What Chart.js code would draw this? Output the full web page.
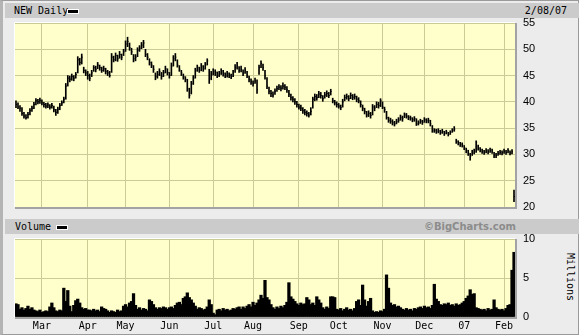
<!DOCTYPE html>
<html><head><meta charset="utf-8">
<script src="https://cdn.jsdelivr.net/npm/chart.js@4.4.1/dist/chart.umd.min.js"></script>
<style>
html,body{margin:0;padding:0;}
body{width:579px;height:335px;overflow:hidden;}
#wrap{position:relative;width:579px;height:335px;background:#ececec;box-sizing:border-box;border:1px solid #9a9a9a;border-left:3px solid #b4b4b4;}
.band{position:absolute;left:2px;width:574px;height:15px;background:#cbcbcb;}
.t{position:absolute;font-family:"DejaVu Sans Mono",monospace;font-size:10px;color:#000;line-height:12px;white-space:nowrap;}
.sw{position:absolute;width:10px;height:3px;background:#000;border:1px solid #fff;}
.logo{position:absolute;font-family:"DejaVu Sans",sans-serif;font-weight:bold;font-size:10px;color:#8c8c8c;line-height:12px;white-space:nowrap;}
canvas{position:absolute;left:0;top:0;}
#mil{position:absolute;left:541px;top:270px;width:52px;text-align:center;transform:rotate(90deg);}
</style>
</head><body>
<div id="wrap">
  <div class="band" style="top:2px"></div>
  <div class="t" style="left:11px;top:4px">NEW Daily</div>
  <div class="sw" style="left:64px;top:8px"></div>
  <div class="t" style="left:518px;top:4px;width:46px;text-align:right">2/08/07</div>
  <div class="band" style="top:218px"></div>
  <div class="t" style="left:12px;top:220px">Volume</div>
  <div class="sw" style="left:53px;top:224px"></div>
  <div class="logo" style="left:400px;top:220px;width:113px;text-align:right">©BigCharts.com</div>
  <div class="t" id="mil">Millions</div>
</div>
<canvas id="price" width="579" height="335"></canvas>
<canvas id="vol" width="579" height="335"></canvas>
<script>
// ---- categories / tick labels ----
const monthLabels = ['Mar','Apr','May','Jun','Jul','Aug','Sep','Oct','Nov','Dec','07','Feb'];
const monthStarts = [13,36,55,77,99,119,142,162,184,205,225,245];
const priceTicks = [20,25,30,35,40,45,50,55];
const volTicks = [0,5,10];

// ---- series: daily high / low / close (price), volume (millions) ----
const closes = [
39.5,39.0,38.8,37.8,37.3,37.0,37.6,38.3,38.8,39.5,
40.2,40.0,40.3,39.8,39.5,39.2,39.4,39.0,39.3,38.5,
38.0,38.6,39.3,39.8,40.5,43.0,44.5,44.3,44.8,44.5,
45.2,48.0,47.5,48.5,46.0,45.5,45.0,44.5,45.5,46.5,
46.2,47.0,46.5,46.0,46.3,45.8,45.5,45.0,48.5,48.0,
48.8,48.2,49.0,48.5,49.5,51.0,51.5,50.3,49.5,48.2,
48.5,49.8,50.2,50.8,51.2,49.0,48.5,47.5,47.0,46.2,
44.8,45.2,45.8,44.8,45.5,46.3,45.6,45.0,46.8,48.2,
48.5,47.0,46.2,45.5,44.8,44.3,42.5,41.2,43.5,44.5,
46.0,46.5,46.0,46.8,46.3,47.0,47.8,44.5,45.3,45.8,
45.6,45.0,45.3,45.8,45.4,45.0,45.3,45.0,44.8,45.3,
46.5,46.8,46.0,46.2,45.5,46.0,45.0,44.3,43.8,43.5,
44.0,42.3,46.5,47.3,46.5,45.0,43.0,42.0,41.6,41.3,
42.0,42.5,42.8,42.6,43.0,42.8,42.3,41.5,40.8,40.5,
40.0,39.5,39.0,38.8,38.3,38.0,37.8,37.5,38.2,40.5,
41.0,40.8,41.5,41.2,40.6,41.3,41.6,41.2,42.0,40.2,
39.8,39.5,39.2,38.9,40.0,40.8,41.0,40.6,41.2,40.9,
41.0,40.5,40.2,39.5,38.8,38.2,37.5,37.8,37.4,39.0,
38.8,39.5,39.3,40.2,39.0,38.5,37.0,36.5,36.3,36.0,
35.8,36.2,36.5,37.0,36.8,37.5,37.3,37.0,36.9,36.6,
36.8,35.8,36.0,36.3,36.1,36.6,36.4,36.5,35.8,34.5,
34.6,34.4,34.5,34.2,34.4,34.0,34.3,33.8,34.2,34.6,
34.8,32.5,32.2,31.9,31.8,31.3,30.8,30.3,29.6,30.4,
30.6,32.3,31.2,30.9,30.6,30.4,30.7,30.5,30.8,30.6,
29.9,29.8,30.2,30.4,30.3,30.6,30.4,30.7,30.3,30.5,
22.0];
const highs = [
40.2,39.8,39.3,38.9,38.0,37.6,38.0,38.7,39.2,39.9,
40.6,40.5,40.7,40.4,39.9,39.7,39.8,39.5,39.7,39.2,
38.6,39.0,39.7,40.2,40.9,43.5,45.0,44.9,45.3,45.0,
45.6,48.6,48.3,49.1,46.6,46.1,45.8,45.3,46.0,46.9,
46.8,47.5,47.0,46.6,46.8,46.4,46.0,45.8,49.2,48.7,
49.3,48.9,49.6,49.1,50.0,51.6,52.3,51.2,50.2,49.0,
49.0,50.3,50.7,51.3,51.7,50.0,49.2,48.2,47.6,46.9,
45.5,45.8,46.3,45.6,46.0,46.8,46.3,45.6,47.4,48.8,
49.2,48.0,46.9,46.0,45.3,44.8,44.3,42.6,43.9,45.0,
46.4,47.0,46.6,47.3,46.9,47.5,48.2,46.2,45.8,46.3,
46.1,45.7,45.8,46.3,46.0,45.5,45.8,45.5,45.3,46.0,
47.1,47.5,46.7,46.8,46.1,46.5,45.8,44.9,44.4,44.0,
44.5,44.2,47.0,47.8,47.2,46.0,44.6,42.8,42.2,41.9,
42.5,43.0,43.3,43.1,43.6,43.3,42.9,42.2,41.5,41.0,
40.6,40.1,39.6,39.4,38.9,38.6,38.3,38.0,38.9,40.9,
41.5,41.4,42.0,41.8,41.2,41.8,42.1,41.8,42.4,40.7,
40.3,40.0,39.7,39.4,40.5,41.3,41.5,41.2,41.7,41.4,
41.5,41.1,40.8,40.2,39.4,38.8,38.2,38.3,38.0,39.5,
39.3,40.0,39.9,40.6,40.0,39.0,38.2,37.1,36.9,36.6,
36.3,36.7,37.0,37.5,37.3,37.9,37.8,37.4,37.3,37.0,
37.2,36.8,36.4,36.7,36.5,37.0,36.8,36.9,36.5,35.5,
34.9,34.8,34.9,34.6,34.8,34.4,34.6,34.2,34.5,34.9,
35.3,32.9,32.6,32.3,32.2,31.7,31.2,30.8,30.2,30.8,
31.0,32.6,31.8,31.3,31.0,30.8,31.1,30.9,31.2,31.0,
30.4,30.2,30.6,30.8,30.7,31.0,30.8,31.1,30.7,30.9,
23.2];
const lows = [
38.9,38.7,38.2,37.4,36.9,36.7,36.9,37.5,38.2,38.7,
39.4,39.6,39.7,39.4,39.0,38.8,38.9,38.6,38.8,38.1,
37.4,37.8,38.5,39.3,39.8,40.5,43.0,43.8,44.1,44.0,
44.5,45.5,47.0,47.2,45.5,45.0,44.3,44.0,44.8,45.8,
45.7,46.3,46.0,45.6,45.8,45.3,45.0,44.7,45.6,47.6,
47.8,47.7,48.3,48.0,48.8,49.6,50.5,49.8,49.0,47.6,
47.8,48.6,49.6,50.1,50.3,48.6,48.0,47.0,46.5,45.6,
44.2,44.5,45.0,44.3,44.8,45.5,45.1,44.5,45.0,46.8,
47.8,46.6,45.8,45.0,44.3,43.8,42.0,40.7,41.5,43.3,
44.5,45.8,45.6,45.9,45.8,46.2,47.0,43.5,44.2,45.1,
45.0,44.6,44.8,45.2,44.9,44.6,44.7,44.6,44.4,44.8,
45.6,46.2,45.6,45.7,45.0,45.4,44.6,43.8,43.3,43.0,
43.5,41.6,45.2,46.5,46.0,44.3,42.5,41.5,41.0,40.9,
41.4,42.0,42.3,42.1,42.4,42.3,41.8,41.0,40.3,40.0,
39.5,39.0,38.6,38.3,37.8,37.5,37.3,37.1,37.5,38.8,
40.2,40.3,40.8,40.7,40.1,40.7,41.0,40.8,41.3,39.8,
39.4,39.0,38.8,38.5,39.0,40.2,40.5,40.2,40.6,40.4,
40.5,40.0,39.8,39.0,38.3,37.7,37.1,37.2,36.9,37.5,
38.3,38.9,38.8,39.1,38.7,38.0,36.7,36.1,35.9,35.6,
35.4,35.8,36.1,36.5,36.3,37.0,36.9,36.6,36.5,36.2,
36.3,35.5,35.6,35.9,35.7,36.1,36.0,36.0,35.4,34.2,
34.2,34.0,34.1,33.8,34.0,33.6,33.9,33.5,33.8,34.2,
34.4,32.1,31.8,31.5,31.4,30.9,30.3,29.8,28.9,29.8,
30.1,30.4,30.8,30.5,30.2,30.0,30.3,30.1,30.4,30.2,
29.4,29.4,29.8,30.0,29.9,30.2,30.0,30.3,29.9,30.1,
21.0];
const volumes = [
1.7,1.6,1.0,1.2,0.9,1.1,1.4,1.0,1.2,0.9,
0.8,0.7,0.9,0.6,0.7,0.8,0.7,1.3,1.8,1.2,
0.8,0.7,0.9,0.8,3.7,2.0,3.4,1.4,0.7,1.5,
2.1,2.3,1.8,1.2,1.0,1.1,0.9,0.9,0.8,1.0,
0.8,0.9,0.7,1.3,1.1,1.0,0.8,0.6,0.8,0.7,
0.6,0.9,0.7,0.8,1.4,1.6,1.3,1.8,2.0,3.0,
1.5,1.0,1.2,0.9,1.1,1.0,0.8,2.2,2.0,1.6,
1.2,1.0,1.2,1.1,1.3,1.2,1.0,1.2,1.3,1.1,
1.5,1.8,1.9,1.6,2.4,2.6,3.1,2.5,2.2,1.8,
1.4,1.0,1.2,1.1,0.9,1.0,1.3,2.2,1.6,0.5,
0.3,0.9,1.0,0.8,1.1,0.9,1.0,0.8,0.9,1.1,
1.0,1.2,1.3,1.0,1.3,1.1,1.4,1.6,1.3,1.9,
1.5,1.8,2.2,2.8,2.4,4.7,2.5,2.2,1.6,1.2,
1.0,1.3,1.1,1.4,1.2,1.5,1.9,4.4,2.6,2.3,
2.0,1.7,1.5,1.8,1.6,1.7,2.5,2.2,1.6,1.8,
1.5,2.6,2.2,1.8,1.2,1.0,1.3,1.1,2.6,2.6,
2.5,1.0,0.9,1.1,0.8,1.0,1.2,0.9,1.0,0.8,
1.1,2.0,2.2,1.5,4.1,2.2,1.4,2.0,2.4,0.8,
0.6,0.7,0.6,0.8,0.7,1.0,5.4,3.7,1.8,1.5,
1.6,1.3,1.4,1.2,1.0,0.9,1.1,0.9,1.0,0.8,
1.1,1.0,1.2,1.3,1.1,1.4,1.2,1.3,1.1,1.5,
4.2,2.3,2.0,1.6,1.5,1.7,1.6,1.8,1.5,1.6,
1.4,1.7,1.5,1.6,1.8,2.0,2.4,2.7,3.5,2.9,
3.0,1.2,1.1,1.0,0.9,1.0,0.8,1.1,0.9,1.0,
2.2,1.2,1.0,0.9,1.0,0.8,1.1,1.5,1.6,6.0,
8.3];

const days = closes.map((_, i) => i);
const gridColor = '#cbcb96';
const plotBg = '#ffffcc';
const tickFont = {family:'"DejaVu Sans Mono", monospace', size:10};
const numFont = {family:'"Liberation Sans", Arial, sans-serif', size:11};

const plotFrame = {
  id:'plotFrame',
  beforeDraw(chart){
    const {ctx, chartArea:a} = chart;
    ctx.save();
    ctx.fillStyle = plotBg;
    ctx.fillRect(a.left, a.top, a.right - a.left, a.bottom - a.top);
    ctx.restore();
  },
  afterDraw(chart){
    const {ctx, chartArea:a} = chart;
    ctx.save();
    ctx.strokeStyle = '#a3a3a3';
    ctx.lineWidth = 2;
    ctx.beginPath();
    ctx.moveTo(a.right + 1, a.top);
    ctx.lineTo(a.right + 1, a.bottom + 1);
    ctx.lineTo(a.left, a.bottom + 1);
    ctx.stroke();
    ctx.strokeStyle = '#ffffff';
    ctx.lineWidth = 1;
    ctx.beginPath();
    ctx.moveTo(a.left - 0.5, a.bottom);
    ctx.lineTo(a.left - 0.5, a.top - 0.5);
    ctx.lineTo(a.right, a.top - 0.5);
    ctx.stroke();
    ctx.restore();
  }
};

function xScale(showLabels){
  return {
    type:'category',
    offset:true,
    grid:{offset:false, drawTicks:false, lineWidth:1,
      color: c => monthStarts.includes(c.index) ? gridColor : 'rgba(0,0,0,0)'},
    border:{display:false},
    ticks:{display:showLabels, autoSkip:false, maxRotation:0, minRotation:0, padding:3,
      color:'#000', font:tickFont,
      callback:(v, i) => { const k = monthStarts.indexOf(i); return k >= 0 ? monthLabels[k] : ''; }},
    afterFit: s => { s.height = showLabels ? 18 : 0; }
  };
}

Chart.defaults.animation = false;

new Chart(document.getElementById('price'), {
  type:'bar',
  data:{
    labels: days,
    datasets:[
      {type:'bar', data: lows.map((l, i) => [l, highs[i]]), backgroundColor:'#000', borderWidth:0, barThickness:1, grouped:false, order:2},
      {type:'line', data: closes, showLine:false, pointStyle:'dash', pointRadius:1, pointBorderWidth:1, borderColor:'#000', backgroundColor:'#000', order:1}
    ]
  },
  options:{
    responsive:false, devicePixelRatio:1, events:[],
    layout:{padding:{left:15, top:23, right:0, bottom:128}},
    plugins:{legend:{display:false}, tooltip:{enabled:false}},
    scales:{
      x: xScale(false),
      y:{position:'right', min:20, max:55,
        afterBuildTicks: s => { s.ticks = priceTicks.map(v => ({value:v})); },
        grid:{color:gridColor, drawTicks:false, lineWidth:1},
        border:{display:false},
        ticks:{padding:8, color:'#000', font:numFont},
        afterFit: s => { s.width = 64; }
      }
    }
  },
  plugins:[plotFrame]
});

new Chart(document.getElementById('vol'), {
  type:'bar',
  data:{
    labels: days,
    datasets:[
      {data: volumes, backgroundColor:'#000', borderWidth:0, barThickness:2.6}
    ]
  },
  options:{
    responsive:false, devicePixelRatio:1, events:[],
    layout:{padding:{left:15, top:239, right:0, bottom:0}},
    plugins:{legend:{display:false}, tooltip:{enabled:false}},
    scales:{
      x: xScale(true),
      y:{position:'right', min:0, max:10,
        afterBuildTicks: s => { s.ticks = volTicks.map(v => ({value:v})); },
        grid:{color:gridColor, drawTicks:false, lineWidth:1},
        border:{display:false},
        ticks:{padding:8, color:'#000', font:numFont},
        afterFit: s => { s.width = 64; }
      }
    }
  },
  plugins:[plotFrame]
});
</script>
</body></html>
